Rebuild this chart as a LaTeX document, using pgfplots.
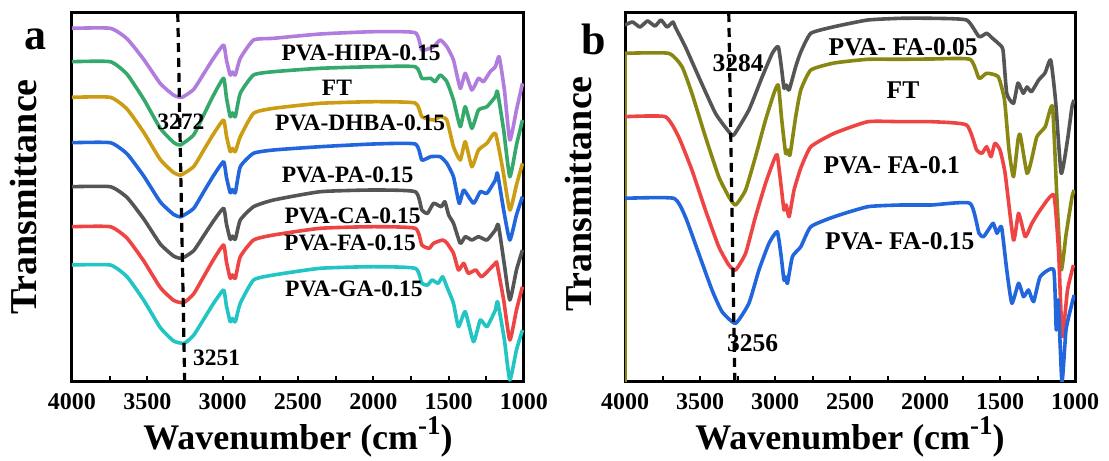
\documentclass[border=0pt]{standalone}
\usepackage{fontspec}
\setmainfont{Liberation Serif}
\usepackage{pgfplots}
\pgfplotsset{compat=1.18}
\definecolor{cPurple}{HTML}{B07DDE}
\definecolor{cGreen}{HTML}{35A86B}
\definecolor{cGold}{HTML}{CC9C12}
\definecolor{cBlue}{HTML}{2266DD}
\definecolor{cGray}{HTML}{555555}
\definecolor{cRed}{HTML}{EE4444}
\definecolor{cCyan}{HTML}{22C4C4}
\definecolor{cOlive}{HTML}{878712}

\pgfplotsset{
  ftir/.style={
    scale only axis, height=369pt,
    xmin=1000, xmax=4000, x dir=reverse,
    ymin=13, ymax=382, y dir=reverse,
    axis line style={line width=3pt},
    xtick={1000,1500,...,4000}, minor x tick num=1, ytick=\empty,
    xtick pos=left, tick align=inside,
    major tick length=6pt, minor tick length=6pt,
    every tick/.style={black, line width=2pt},
    tick label style={font=\fontsize{24}{24}\selectfont\bfseries},
    xticklabel style={yshift=-8pt},
    /pgf/number format/assume math mode=true,
    /pgf/number format/1000 sep={},
    every axis plot/.append style={line width=3.6pt, line join=round, no markers, smooth, tension=0.3},
  },
  dashref/.style={black, line width=3.2pt, dash pattern=on 9pt off 6pt, sharp plot},
}
\newcommand{\lbl}{\fontsize{23.5}{24}\selectfont\bfseries}
\newcommand{\lblb}{\fontsize{25.5}{26}\selectfont\bfseries}
\newcommand{\wavelabel}{Wavenumber (cm\raisebox{0.42em}{\fontsize{27}{27}\selectfont -1})}

\begin{document}
\begin{tikzpicture}[x=1pt,y=1pt]
\path (0,0) rectangle (1109,459);

% ---------------- panel a ----------------
\begin{axis}[ftir, width=452pt, at={(72pt,77pt)}, anchor=south west]
\addplot[cPurple] coordinates {
(4000,28.3) (3746,28.3) (3635,38.7) (3524,59.4) (3414,83.5) (3325,95.2) (3270,97.3)
(3193,89.5) (3126,73.8) (3060,58.1) (2994,45) (2975,60) (2950,75) (2935,72) (2916,75)
(2883,58.3) (2795,40) (2662,38.3) (2352,34) (1999,31.7) (1722,32.7) (1678,50) (1600,46.7)
(1556,40) (1512,46.7) (1468,60) (1423,88.3) (1390,73.3) (1346,90) (1302,78.3) (1269,81.7)
(1224,71.7) (1190,66.7) (1165,56.7) (1130,90) (1094,140) (1050,110) (1010,83.3)
};
\addplot[cGreen] coordinates {
(4000,61.7) (3746,61.7) (3635,74.2) (3524,99.2) (3414,128.3) (3325,142.5) (3281,145)
(3193,135) (3126,115) (3060,95) (2994,78.3) (2975,97.5) (2950,116.7) (2935,112.9) (2916,116.7)
(2883,93.3) (2795,75) (2662,71.7) (2352,68.3) (1999,66.7) (1722,66.7) (1678,78.3) (1620,78.3)
(1590,81.7) (1556,75) (1512,81.7) (1468,100) (1423,126.7) (1390,106.7) (1346,128.3) (1302,110)
(1246,106.7) (1190,96.7) (1176,91.7) (1135,130) (1094,176.7) (1050,145) (1010,120)
};
\addplot[cGold] coordinates {
(4000,97.3) (3746,97.3) (3635,109) (3524,132.3) (3414,159.5) (3325,172.7) (3277,175)
(3193,166.7) (3126,150.2) (3060,133.7) (2994,120) (2975,135.8) (2950,151.7) (2935,148.5) (2916,151.7)
(2883,136.7) (2795,113.3) (2662,108.3) (2352,103.3) (1999,101.7) (1722,103) (1678,116.7) (1600,120)
(1556,116.7) (1512,120) (1468,146.7) (1423,160) (1390,141.7) (1346,166.7) (1302,150) (1246,143.3)
(1190,133.3) (1140,170) (1094,210) (1050,185) (1010,163.3)
};
\addplot[cBlue] coordinates {
(4000,142.7) (3746,142.7) (3635,153.8) (3524,176) (3414,201.9) (3325,214.5) (3277,216.7)
(3193,208.5) (3126,191.9) (3060,175.5) (2994,161.7) (2975,177.2) (2950,192.7) (2935,189.6) (2916,192.7)
(2883,166.7) (2795,153.3) (2662,150) (2352,146.7) (1999,144) (1722,144) (1678,160) (1620,156.7)
(1556,156.7) (1512,163.3) (1468,176.7) (1430,203.3) (1400,190) (1335,203.3) (1290,191.7) (1246,193.3)
(1190,180) (1176,173.3) (1135,210) (1094,240) (1050,215) (1010,196.7)
};
\addplot[cGray] coordinates {
(4000,186.7) (3746,186.7) (3635,197.4) (3524,218.9) (3414,244) (3325,256.1) (3270,258.3)
(3193,250.8) (3126,235.8) (3060,220.8) (2994,208.3) (2975,223.8) (2950,239.3) (2935,236.2) (2916,239.3)
(2883,220) (2795,206.7) (2662,200) (2352,191.7) (1999,190) (1722,191.7) (1678,210) (1640,213.3)
(1600,203.3) (1550,206.7) (1525,201.7) (1500,215) (1468,223.3) (1423,243.3) (1390,236.7) (1346,240)
(1302,236.7) (1246,240) (1190,230) (1170,225) (1130,265) (1094,300) (1050,270) (1010,250)
};
\addplot[cRed] coordinates {
(4000,226.7) (3746,226.7) (3635,238.1) (3524,260.9) (3414,287.5) (3325,300.4) (3259,302.7)
(3193,294) (3126,276.7) (3060,259.4) (2994,245) (2975,261.7) (2950,278.3) (2935,275) (2916,278.3)
(2883,256.7) (2795,240) (2662,235) (2352,228.3) (1999,226.7) (1722,228.3) (1678,245) (1630,248.3)
(1600,243.3) (1540,240) (1512,243) (1468,253.3) (1435,270) (1400,263.3) (1370,273.3) (1320,270)
(1280,276.7) (1190,263.3) (1180,263.3) (1135,300) (1094,340) (1050,310) (1010,286.7)
};
\addplot[cCyan] coordinates {
(4000,265) (3746,265) (3635,276.7) (3524,300.2) (3414,327.6) (3325,341) (3255,343.3)
(3193,335.3) (3126,319.3) (3060,303.3) (2994,290) (2975,305.8) (2950,321.7) (2935,318.5) (2916,321.7)
(2883,303.3) (2795,280) (2662,275) (2352,268.3) (1999,266.7) (1722,268.3) (1678,283.3) (1640,285)
(1610,280) (1570,283.3) (1540,276.7) (1512,286.7) (1468,303.3) (1435,326.7) (1390,311.7) (1335,341.7)
(1290,320) (1246,326.7) (1190,310) (1175,301.7) (1130,340) (1094,380) (1050,350) (1010,330)
};
\addplot[dashref] coordinates {(3298,13) (3252,382)};
\end{axis}

% ---------------- panel b ----------------
\begin{axis}[ftir, width=450pt, at={(625pt,77pt)}, anchor=south west]
\addplot[cGray] coordinates {
(4000,25) (3950,22) (3900,27) (3850,21) (3800,26) (3760,20) (3720,27) (3680,22) (3665,27)
(3598,46.7) (3509,76.7) (3397,113.3) (3308,131.7) (3275,135) (3174,110) (3085,76.7) (3018,53.3)
(2978,46.7) (2955,70) (2940,88.3) (2925,85) (2906,90) (2862,66.7) (2828,52) (2761,33.3)
(2605,26.7) (2381,20) (2158,18.3) (1957,18.3) (1723,20) (1640,36.7) (1589,33.3) (1550,38.3)
(1512,43.3) (1480,50) (1455,93.3) (1410,103.3) (1380,83) (1345,93.3) (1320,87) (1290,91.7)
(1242,80) (1200,73) (1162,60) (1130,100) (1092,173.3) (1050,140) (1020,106.7) (1005,100)
};
\addplot[cOlive, sharp plot] coordinates {(4000,382) (4000,53.3)};
\addplot[cOlive] coordinates {
(4000,53.3) (3710,53.3) (3620,66.7) (3554,93.3) (3464,136.7) (3375,176.7) (3308,196.7)
(3263,205) (3196,190) (3130,156.7) (3063,120) (3007,93.3) (2978,85) (2955,120) (2929,153.3)
(2915,150) (2900,155) (2862,116.7) (2828,90) (2761,70) (2605,63) (2381,59.3) (2158,59.3)
(1957,59) (1700,59.3) (1640,78.3) (1589,73.3) (1512,76.7) (1470,100) (1440,150) (1410,176.7)
(1380,140) (1365,135) (1320,173.3) (1290,160) (1254,136.7) (1198,126.7) (1150,106.7) (1120,200)
(1092,270) (1060,235) (1020,197) (1005,190)
};
\addplot[cRed] coordinates {
(4000,116.7) (3732,116.7) (3643,136.7) (3554,170) (3464,210) (3375,246.7) (3308,265) (3263,270)
(3196,253.3) (3130,216.7) (3063,183.3) (3007,160) (2985,155) (2960,185) (2940,210) (2925,205)
(2906,216.7) (2873,190) (2828,168) (2761,146.7) (2605,133.3) (2381,121.7) (2158,121.7) (1957,121.7)
(1723,125) (1656,150) (1620,153.3) (1589,146.7) (1560,156.7) (1534,143.3) (1500,150) (1466,173.3)
(1410,240) (1376,213.3) (1332,236.7) (1287,223.3) (1232,210) (1142,195) (1110,250) (1085,336.7)
(1050,290) (1010,265)
};
\addplot[cBlue] coordinates {
(4000,198.3) (3676,198.3) (3598,216.7) (3509,253.3) (3420,290) (3353,311.7) (3263,323.3)
(3174,303.3) (3107,270) (3040,243.3) (2985,231.7) (2960,255) (2940,280) (2928,277) (2917,283.3)
(2884,256.7) (2828,246.7) (2761,226.7) (2605,216.7) (2381,206.7) (2158,205) (1957,205) (1700,203.3)
(1640,233.3) (1610,236.7) (1578,230) (1545,223.3) (1520,233.3) (1490,226.7) (1455,270) (1421,303.3)
(1376,283.3) (1343,296.7) (1310,290) (1276,301.7) (1232,276.7) (1142,270) (1125,330) (1112,300)
(1087,382) (1060,330) (1020,303.3) (1005,295)
};
\addplot[dashref] coordinates {(3308,13) (3268,382)};
\end{axis}

% ---------------- text ----------------
\node[font=\fontsize{44}{44}\selectfont\bfseries, anchor=base] at (35,409) {a};
\node[font=\fontsize{44}{44}\selectfont\bfseries, anchor=base] at (594,404) {b};
\node[font=\fontsize{38}{38}\selectfont\bfseries, rotate=90] at (24,262) {Transmittance};
\node[font=\fontsize{38}{38}\selectfont\bfseries, rotate=90] at (578,265) {Transmittance};
\node[font=\fontsize{36}{36}\selectfont\bfseries, anchor=base] at (298,9) {\wavelabel};
\node[font=\fontsize{36}{36}\selectfont\bfseries, anchor=base] at (850,9) {\wavelabel};

\node[font=\lbl, anchor=west] at (278,406.5) {PVA-HIPA-0.15};
\node[font=\lbl] at (337,370.7) {FT};
\node[font=\lbl, anchor=west] at (271.7,335.7) {PVA-DHBA-0.15};
\node[font=\lbl, anchor=west] at (278.3,284) {PVA-PA-0.15};
\node[font=\lbl, anchor=west] at (281,243) {PVA-CA-0.15};
\node[font=\lbl, anchor=west] at (280.7,216) {PVA-FA-0.15};
\node[font=\lbl, anchor=west] at (281.7,170) {PVA-GA-0.15};
\node[font=\lbl] at (180.8,337.3) {3272};
\node[font=\lbl] at (216.7,100.7) {3251};

\node[font=\lblb, anchor=west] at (825,411.5) {PVA- FA-0.05};
\node[font=\lblb] at (903,369) {FT};
\node[font=\lblb, anchor=west] at (820,294) {PVA- FA-0.1};
\node[font=\lblb, anchor=west] at (821.7,217.3) {PVA- FA-0.15};
\node[font=\lblb] at (738,395.7) {3284};
\node[font=\lblb] at (752.5,115.7) {3256};
\end{tikzpicture}
\end{document}
